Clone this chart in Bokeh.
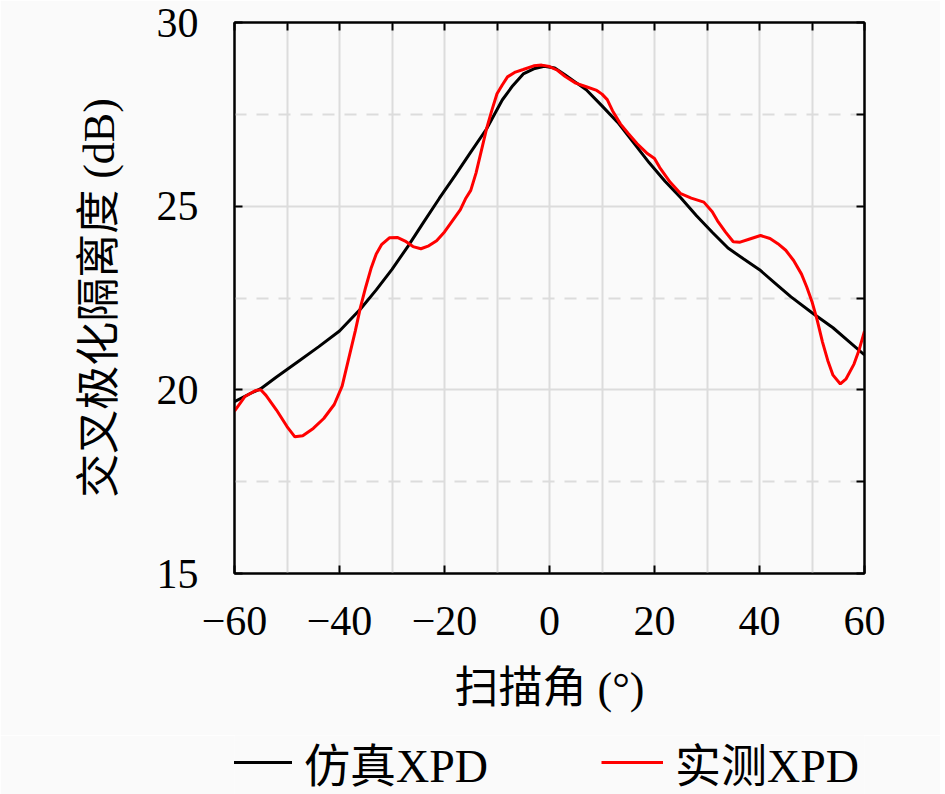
from bokeh.plotting import figure
from bokeh.models import LinearAxis, FixedTicker, Legend, LegendItem, Range1d
from bokeh.layouts import column
from bokeh.embed import file_html
from bokeh.resources import INLINE

# ---- data ----
sim_x = [-60, -57, -55, -52, -48, -44, -40, -36, -33, -30, -27, -24, -21, -18, -15,
         -12, -9, -7, -5, -3, -1, 1, 3, 5, 7, 10, 13, 16, 19, 22, 25, 28, 31, 34,
         37, 40, 43, 46, 50, 54, 57, 60]
sim_y = [19.68, 19.90, 20.03, 20.35, 20.76, 21.17, 21.60, 22.20, 22.72, 23.28, 23.90,
         24.56, 25.21, 25.83, 26.47, 27.10, 27.89, 28.28, 28.60, 28.74, 28.81, 28.76,
         28.57, 28.37, 28.17, 27.73, 27.28, 26.73, 26.18, 25.68, 25.23, 24.74, 24.29,
         23.86, 23.56, 23.27, 22.90, 22.53, 22.10, 21.69, 21.32, 20.95]

meas_x = [-60, -58, -56, -55, -54, -52, -50, -48.5, -47, -45, -43, -41, -39.5, -38,
          -37, -36, -35, -34, -33, -32, -30.5, -29, -27.5, -26, -24.5, -23, -21.5,
          -20, -18.5, -17, -16, -15, -14, -13, -12, -11, -10, -9, -8, -6.5, -5, -3,
          -1.5, 0, 1.5, 3, 5, 7, 9, 10, 11, 12, 13.5, 15, 16.7, 18.5, 20, 21, 23, 25,
          27, 29.4, 31, 32, 33.5, 35, 36.3, 38, 40.2, 42, 43.5, 45, 46.5, 48, 49, 50,
          51, 52, 53, 54, 55.4, 56.5, 58, 59, 60]
meas_y = [19.42, 19.82, 19.98, 20.00, 19.85, 19.45, 19.00, 18.72, 18.75, 18.95, 19.22,
          19.60, 20.10, 21.00, 21.60, 22.25, 22.80, 23.30, 23.70, 23.95, 24.14, 24.15,
          24.05, 23.90, 23.84, 23.92, 24.06, 24.30, 24.60, 24.90, 25.20, 25.43, 25.90,
          26.50, 27.10, 27.60, 28.06, 28.30, 28.52, 28.65, 28.72, 28.82, 28.84, 28.80,
          28.70, 28.53, 28.35, 28.25, 28.15, 28.05, 27.90, 27.60, 27.24, 26.98, 26.70,
          26.45, 26.30, 26.05, 25.65, 25.34, 25.22, 25.11, 24.85, 24.60, 24.30, 24.03,
          24.02, 24.10, 24.20, 24.12, 23.98, 23.80, 23.52, 23.15, 22.80, 22.40, 21.89,
          21.30, 20.80, 20.40, 20.16, 20.30, 20.70, 21.10, 21.60]

x_ticks = [-60, -40, -20, 0, 20, 40, 60]
x_tick_labels = ["−60", "−40", "−20", "0", "20", "40", "60"]
y_ticks = [15, 20, 25, 30]
y_tick_labels = ["15", "20", "25", "30"]
sim_label = "仿真XPD"
meas_label = "实测XPD"
x_title = "扫描角 (°)"
y_title = "交叉极化隔离度 (dB)"

FONT = "Liberation Serif, Noto Sans CJK SC"
BG = "#fafafa"
GRID = "#dcdcdc"
W = 940

p = figure(width=W, height=735, x_range=Range1d(-60, 60), y_range=Range1d(15, 30),
           output_backend="svg", toolbar_location=None,
           min_border_left=234, min_border_right=W - 864, min_border_top=22,
           min_border_bottom=735 - 573, background_fill_color=BG, border_fill_color=BG)

p.outline_line_color = "black"
p.outline_line_width = 2

# grids
p.xgrid.ticker = FixedTicker(ticks=list(range(-60, 61, 10)))
p.xgrid.grid_line_color = GRID
p.xgrid.grid_line_width = 2
p.ygrid.ticker = FixedTicker(ticks=[20, 25], minor_ticks=[17.5, 22.5, 27.5])
p.ygrid.grid_line_color = GRID
p.ygrid.grid_line_width = 2
p.ygrid.minor_grid_line_color = GRID
p.ygrid.minor_grid_line_width = 2
p.ygrid.minor_grid_line_dash = "12 10"

def style_axis(ax):
    ax.axis_line_color = "black"
    ax.axis_line_width = 2
    ax.major_tick_in = 8
    ax.major_tick_out = 0
    ax.major_tick_line_color = "black"
    ax.major_tick_line_width = 2
    ax.minor_tick_line_color = None
    ax.major_label_text_font = FONT
    ax.major_label_text_font_size = "42px"
    ax.major_label_text_color = "black"
    ax.axis_label_text_font = FONT
    ax.axis_label_text_font_size = "44px"
    ax.axis_label_text_font_style = "normal"
    ax.axis_label_text_color = "black"

xa = p.xaxis[0]
style_axis(xa)
xa.ticker = FixedTicker(ticks=x_ticks)
xa.major_label_overrides = dict(zip(x_ticks, x_tick_labels))
xa.major_label_standoff = 33
xa.axis_label = x_title
xa.axis_label_standoff = 26

ya = p.yaxis[0]
style_axis(ya)
ya.ticker = FixedTicker(ticks=y_ticks)
ya.major_label_overrides = dict(zip(y_ticks, y_tick_labels))
ya.major_label_standoff = 36
ya.axis_label = y_title
ya.axis_label_standoff = 30

top = LinearAxis(ticker=FixedTicker(ticks=list(range(-60, 61, 10))))
style_axis(top)
top.major_label_text_color = None
top.major_label_text_font_size = "1px"
top.major_label_standoff = 0
p.add_layout(top, "above")

right = LinearAxis(ticker=FixedTicker(ticks=[15, 17.5, 20, 22.5, 25, 27.5, 30]))
style_axis(right)
right.major_label_text_color = None
right.major_label_text_font_size = "1px"
right.major_label_standoff = 0
p.add_layout(right, "right")

p.line(sim_x, sim_y, line_color="black", line_width=3)
p.line(meas_x, meas_y, line_color="#ff0000", line_width=3)

# legend strip below the chart (its own lines lie outside its visible range)
p2 = figure(width=W, height=59, x_range=Range1d(-60, 60), y_range=Range1d(100, 101),
            output_backend="svg", toolbar_location=None, min_border=0,
            x_axis_location=None, y_axis_location=None,
            background_fill_color=BG, border_fill_color=BG)
p2.outline_line_color = None
p2.grid.visible = False
l_sim = p2.line(sim_x, sim_y, line_color="black", line_width=3)
l_meas = p2.line(meas_x, meas_y, line_color="#ff0000", line_width=3)

legend = Legend(items=[LegendItem(label=sim_label, renderers=[l_sim]),
                       LegendItem(label=meas_label, renderers=[l_meas])],
                orientation="horizontal", location=(-4, -1))
legend.label_text_font = FONT
legend.label_text_font_size = "46px"
legend.label_text_color = "black"
legend.glyph_width = 62
legend.glyph_height = 44
legend.label_standoff = 12
legend.spacing = 113
legend.padding = 0
legend.margin = 0
legend.border_line_color = None
legend.background_fill_alpha = 0
p2.add_layout(legend)

layout = column(p, p2, spacing=0)
open("out.html", "w").write(file_html(layout, INLINE))
